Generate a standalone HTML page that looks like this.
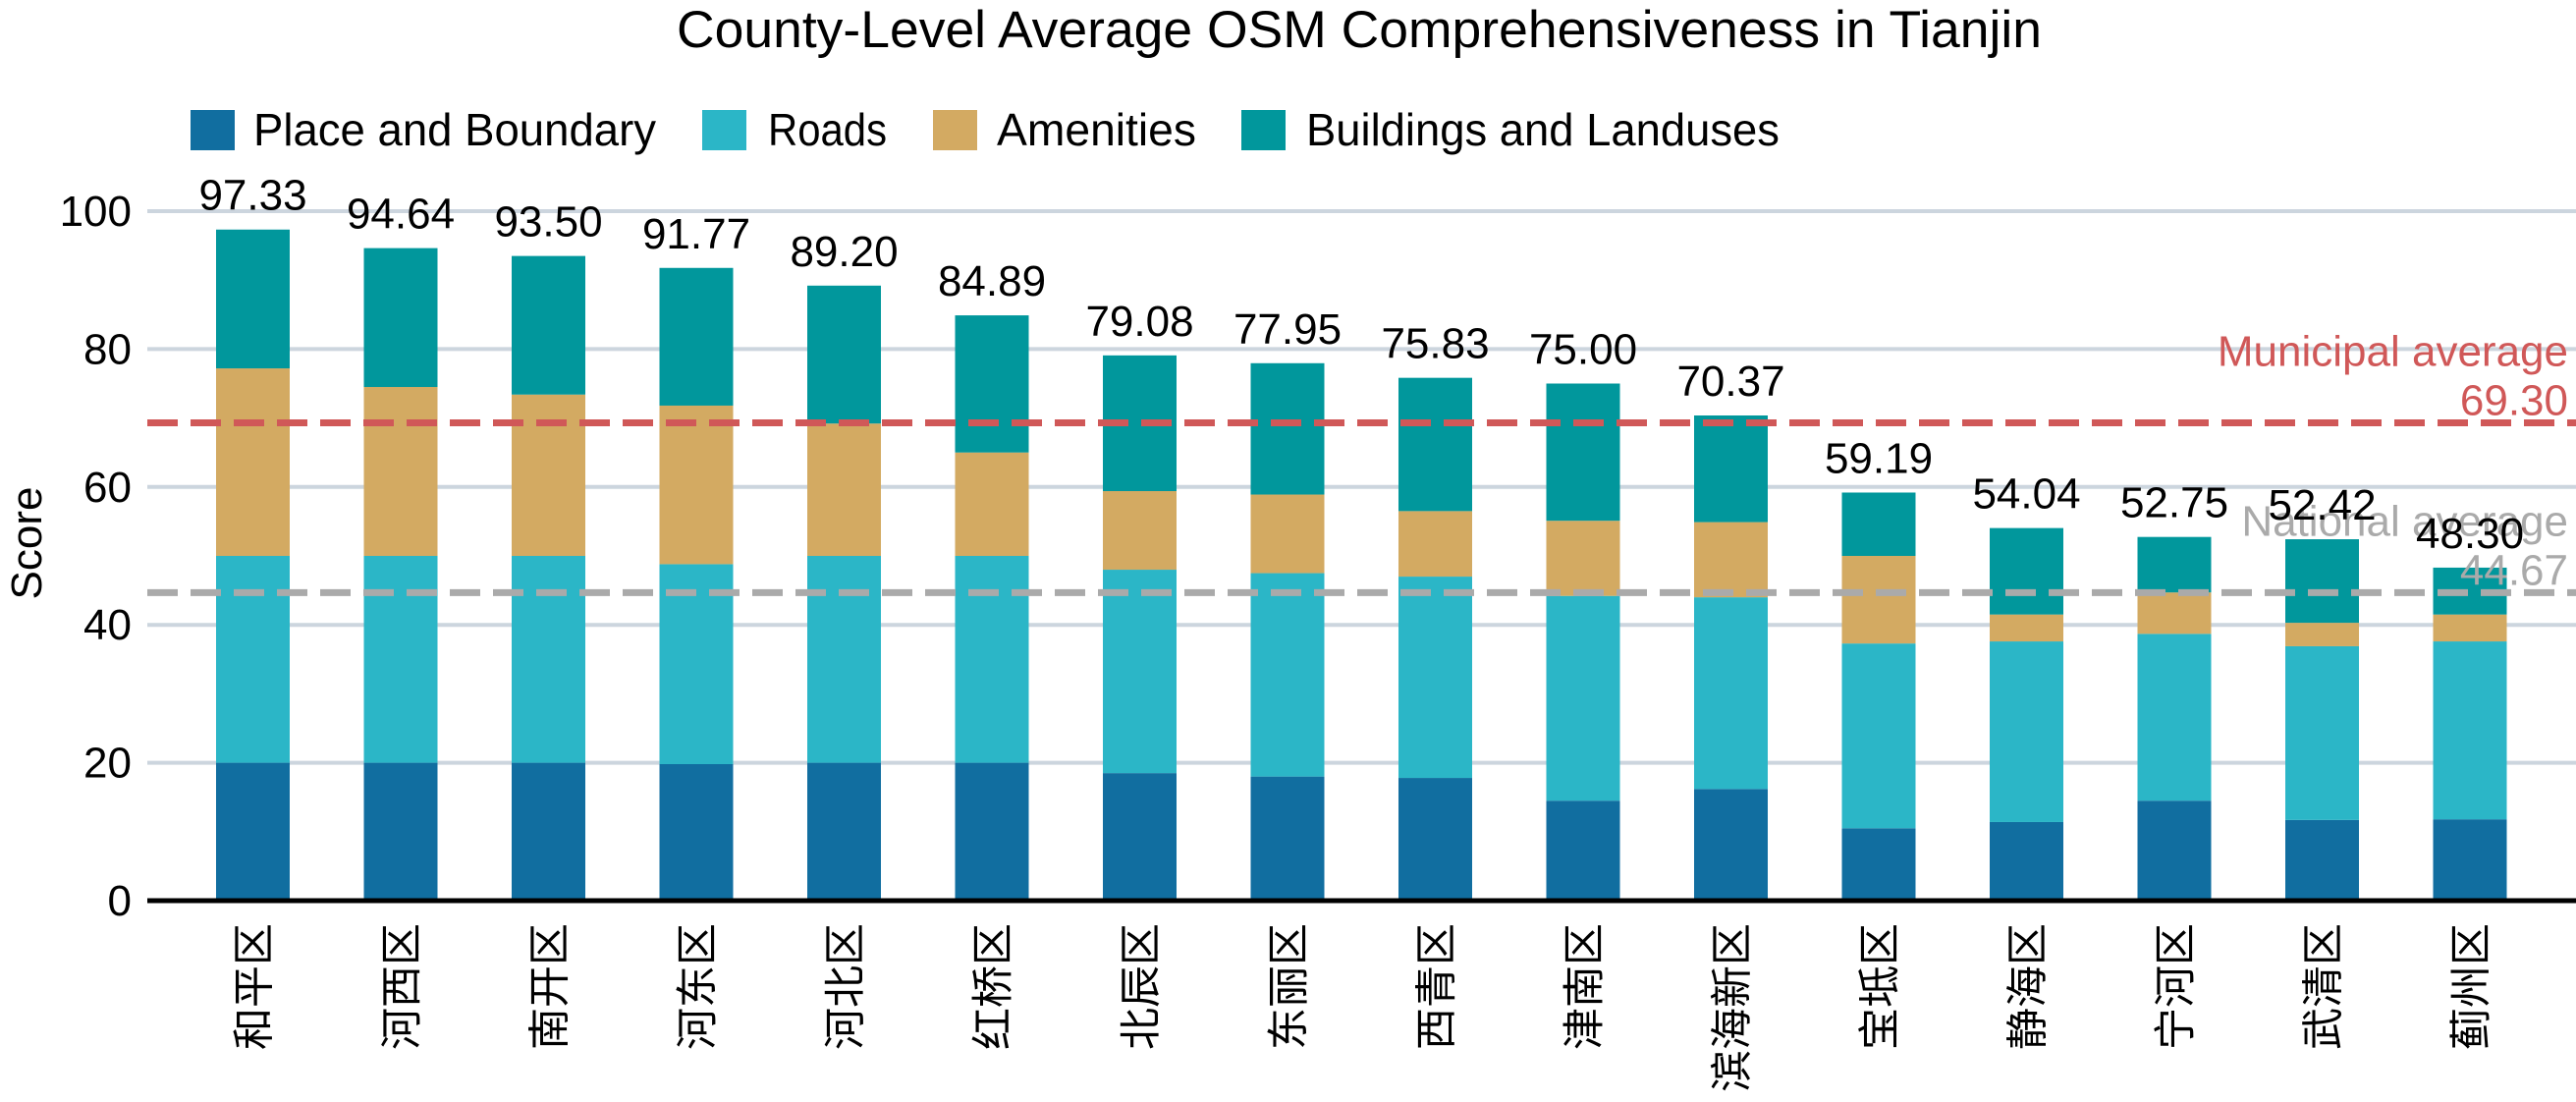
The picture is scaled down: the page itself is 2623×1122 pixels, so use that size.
<!DOCTYPE html>
<html><head><meta charset="utf-8"><style>
html,body{margin:0;padding:0;background:#fff;}
svg{display:block;}
text{font-family:"Liberation Sans","Noto Sans CJK SC",sans-serif;}
</style></head><body>
<svg id="chart" width="2623" height="1122" viewBox="0 0 2623 1122">
<text x="1384" y="48" font-size="53" text-anchor="middle" textLength="1390" lengthAdjust="spacingAndGlyphs">County-Level Average OSM Comprehensiveness in Tianjin</text>
<g id="legend"></g>
<g id="grid"></g>
<g id="bars"></g>
<g id="refs"></g>
<g id="labels"></g>
<text transform="translate(42,553) rotate(-90)" font-size="44" text-anchor="middle">Score</text>
</svg>
<script>
const categories = ["和平区","河西区","南开区","河东区","河北区","红桥区","北辰区","东丽区","西青区","津南区","滨海新区","宝坻区","静海区","宁河区","武清区","蓟州区"];
const placeVals = [20,20,20,19.8,20,20,18.5,18,17.8,14.5,16.2,10.5,11.4,14.5,11.7,11.8];
const roadVals = [30,30,30,29,30,30,29.5,29.5,29.2,29.7,27.8,26.8,26.2,24.2,25.2,25.8];
const amenityVals = [27.2,24.5,23.4,23.0,19.2,15.0,11.4,11.4,9.5,10.9,10.9,12.7,3.9,6.0,3.4,3.9];
const totals = [97.33,94.64,93.50,91.77,89.20,84.89,79.08,77.95,75.83,75.00,70.37,59.19,54.04,52.75,52.42,48.30];
const totalLabels = ["97.33","94.64","93.50","91.77","89.20","84.89","79.08","77.95","75.83","75.00","70.37","59.19","54.04","52.75","52.42","48.30"];
const yTicks = [0,20,40,60,80,100];
const municipalAvg = 69.30;
const nationalAvg = 44.67;
const seriesNames = ["Place and Boundary","Roads","Amenities","Buildings and Landuses"];

const NS="http://www.w3.org/2000/svg";
const colors=["#116ea0","#2bb6c7","#d3aa62","#01979c"];
const y0=917, pxPerUnit=7.02, left=150, right=2623;
const yS=v=>y0-v*pxPerUnit;
const band=150.5, firstC=257.5, bw=75;
const xS=i=>firstC+i*band;
function mk(tag,attrs,parent,txt){const e=document.createElementNS(NS,tag);for(const k in attrs)e.setAttribute(k,attrs[k]);if(txt!==undefined)e.textContent=txt;parent.appendChild(e);return e;}
const grid=document.getElementById('grid'),bars=document.getElementById('bars'),refs=document.getElementById('refs'),labels=document.getElementById('labels'),legend=document.getElementById('legend');

yTicks.forEach(t=>{
  if(t>0){const l=mk('line',{x1:left,x2:right,y1:yS(t),y2:yS(t),stroke:'#ccd5de','stroke-width':4},grid);
  
  }
  const tx=mk('text',{x:134,y:yS(t)+15,'font-size':44,'text-anchor':'end'},labels,String(t));
  
  
});

categories.forEach((c,i)=>{
  const builds=totals[i]-placeVals[i]-roadVals[i]-amenityVals[i];
  const segs=[placeVals[i],roadVals[i],amenityVals[i],builds];
  let base=0;
  const g=mk('g',{},bars);
  
  
  segs.forEach((v,k)=>{
    const r=mk('rect',{x:xS(i)-bw/2,width:bw,y:yS(base+v),height:v*pxPerUnit,fill:colors[k]},g);
    
    
    base+=v;
  });
  const lab=mk('text',{x:xS(i),y:yS(totals[i])-20,'font-size':44,'text-anchor':'middle'},labels,totalLabels[i]);
  
  
  const xl=mk('text',{transform:`translate(${xS(i)+16},940) rotate(-90)`,'font-size':43,'text-anchor':'end'},labels,c);
  
  
});

const ax=mk('line',{x1:left,x2:right,y1:y0,y2:y0,stroke:'#000','stroke-width':5},labels);



[[municipalAvg,'#d05858','Municipal average',"municipal"],[nationalAvg,'#aaaaaa','National average',"national"]].forEach(([v,col,name,key])=>{
  const l=mk('line',{x1:left,x2:right,y1:yS(v),y2:yS(v),stroke:col,'stroke-width':7,'stroke-dasharray':'31 13'},refs);
  
  
  const t1=mk('text',{x:2615,y:yS(v)-58,'font-size':44,'text-anchor':'end',fill:col},refs,name);
  
  
  const t2=mk('text',{x:2615,y:yS(v)-8,'font-size':44,'text-anchor':'end',fill:col},refs,v.toFixed(2));
  
  
});

const legX=[194,715,950,1264], legTX=[258,782,1015,1330], legW=[410,121,203,482];
seriesNames.forEach((n,k)=>{
  const g=mk('g',{},legend);
  
  
  mk('rect',{x:legX[k],y:112,width:45,height:41,fill:colors[k]},g);
  mk('text',{x:legTX[k],y:148,'font-size':46,textLength:legW[k],lengthAdjust:'spacingAndGlyphs'},g,n);
});
</script>
</body></html>
